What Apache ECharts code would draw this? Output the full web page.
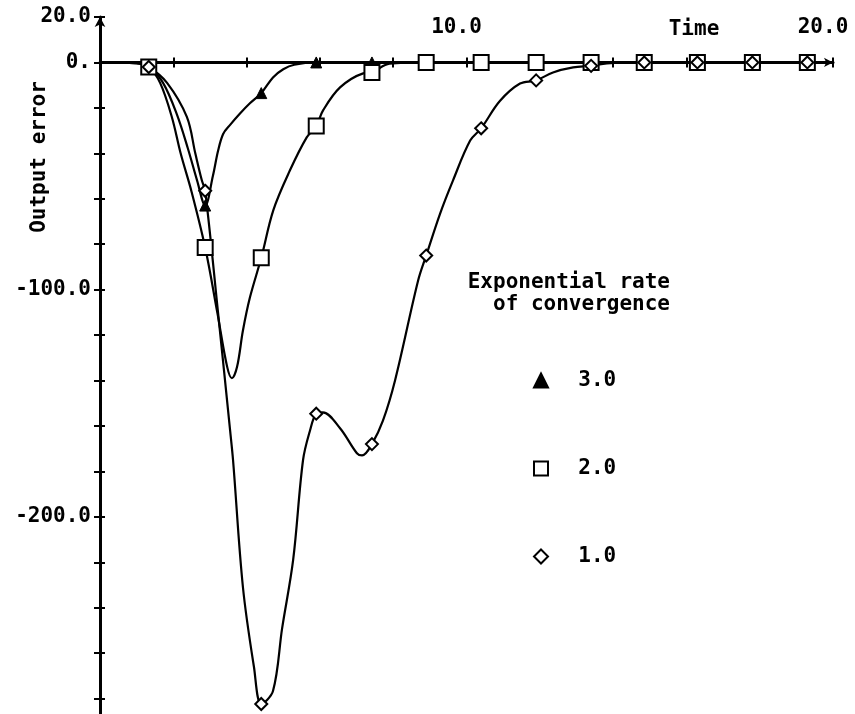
<!DOCTYPE html>
<html>
<head>
<meta charset="utf-8">
<script src="https://cdn.jsdelivr.net/npm/echarts@6/dist/echarts.min.js"></script>
<style>
html,body{margin:0;padding:0;background:#fff;}
#chart{width:855px;height:714px;}
</style>
</head>
<body>
<div id="chart"></div>
<script>
// ---- data ----
const seriesNames = ['3.0', '2.0', '1.0'];
const markerTimes = [1.33, 2.87, 4.4, 5.9, 7.42, 8.9, 10.4, 11.9, 13.4, 14.85, 16.3, 17.8, 19.3];

const rate3 = [[0,0],[1.0,-0.3],[1.33,-2],[1.72,-9],[2.1,-23],[2.4,-38],[2.65,-52],[2.87,-63],
  [3.08,-50],[3.22,-39],[3.36,-31.5],[3.55,-27.5],[3.82,-22.5],[4.09,-18],[4.4,-13.5],
  [4.72,-6.6],[5.0,-3],[5.3,-1],[5.9,0],[7.42,0],[8.9,0],[10.4,0],[11.9,0],[13.4,0],
  [14.85,0],[16.3,0],[17.8,0],[19.3,0]];

const rate2 = [[0,0],[1.0,-0.3],[1.33,-2],[1.64,-9],[1.96,-24],[2.2,-40],[2.5,-57],[2.87,-81.5],
  [3.2,-110],[3.47,-134],[3.6,-139],[3.74,-134],[3.9,-118],[4.09,-103.5],[4.4,-86],
  [4.73,-65],[5.18,-47.6],[5.64,-33],[5.9,-28],[6.09,-21],[6.55,-11],[7.18,-4.8],[7.42,-4.4],
  [7.9,-0.5],[8.9,0],[10.4,0],[11.9,0],[13.4,0],[14.85,0],[16.3,0],[17.8,0],[19.3,0]];

const rate1 = [[0,0],[1.0,-0.3],[1.33,-2],[1.83,-9],[2.37,-24],[2.6,-40],[2.78,-52],[2.87,-56.5],
  [3.22,-110],[3.55,-162],[3.63,-175],[3.9,-231],[4.2,-266],[4.4,-282.4],[4.72,-276.7],
  [4.97,-249],[5.27,-219],[5.54,-175],[5.73,-162],[5.9,-154.6],[6.08,-154],[6.55,-161],
  [7.01,-172],[7.15,-173],[7.42,-168],[7.72,-157.7],[8.05,-140],[8.68,-96],[8.9,-85],
  [9.28,-66.5],[9.63,-52],[10.1,-34.4],[10.4,-29],[10.91,-17],[11.46,-9.3],[11.9,-7.9],
  [12.36,-4.4],[12.91,-2.2],[13.4,-1.5],[13.83,-0.4],[14.85,0],[16.3,0],[17.8,0],[19.3,0]];

const xLabelValues = [10, 20];
const xLabelTexts = ['10.0', '20.0'];
const yLabelValues = [20, 0, -100, -200];
const yLabelTexts = ['20.0', '0.', '-100.0', '-200.0'];

const xTitle = 'Time';
const yTitle = 'Output error';
const legendTitle = 'Exponential rate\n of convergence';

// ---- chart ----
const FONT = '"DejaVu Sans Mono", monospace';
const chart = echarts.init(document.getElementById('chart'), null, {renderer: 'canvas'});

function withMarkers(arr) {
  return arr.map(p => {
    const isMarker = markerTimes.some(t => Math.abs(t - p[0]) < 1e-9);
    return isMarker ? {value: p} : {value: p, symbol: 'none'};
  });
}
function xFmt(v) {
  const i = xLabelValues.indexOf(v);
  return i >= 0 ? xLabelTexts[i] : '';
}
function yFmt(v) {
  const i = yLabelValues.indexOf(v);
  return i >= 0 ? yLabelTexts[i] : '';
}

const Y_MIN = -300, Y_MAX = 20;
const GRID_TOP = 17, GRID_BOTTOM = -30, H = 714;
// offset that brings a 'top' axis down to the zero line
const zeroOffset = -((H - GRID_TOP - GRID_BOTTOM) * (Y_MAX - 0) / (Y_MAX - Y_MIN));

const axisLineStyle = {color: '#000', width: 3};
const baseX = {type: 'value', min: 0, max: 20, interval: 2, splitLine: {show: false}};
const baseY = {type: 'value', min: Y_MIN, max: Y_MAX, interval: 20, position: 'left', splitLine: {show: false}};
const labelFont = {color: '#000', fontFamily: FONT, fontWeight: 'bold', fontSize: 21};

const option = {
  backgroundColor: '#fff',
  animation: false,
  grid: {left: 100, right: 22, top: GRID_TOP, bottom: GRID_BOTTOM, containLabel: false, outerBoundsMode: 'none'},
  xAxis: [
    Object.assign({}, baseX, {
      position: 'bottom',
      axisLine: {show: true, onZero: true, lineStyle: axisLineStyle, symbol: ['none', 'arrow'], symbolSize: [7, 9]},
      axisTick: {show: true, inside: true, length: 5, lineStyle: {color: '#000', width: 2}},
      axisLabel: {show: false}
    }),
    Object.assign({}, baseX, {
      position: 'bottom',
      axisLine: {show: false, onZero: true},
      axisTick: {show: true, inside: false, length: 5, lineStyle: {color: '#000', width: 2}},
      axisLabel: {show: false}
    }),
    Object.assign({}, baseX, {
      position: 'top', offset: zeroOffset,
      axisLine: {show: false, onZero: false},
      axisTick: {show: false},
      axisLabel: Object.assign({show: true, margin: 24, formatter: xFmt, padding: [0, 20, 0, 0]}, labelFont)
    })
  ],
  yAxis: [
    Object.assign({}, baseY, {
      axisLine: {show: true, onZero: true, lineStyle: axisLineStyle, symbol: ['none', 'arrow'], symbolSize: [8, 10]},
      axisTick: {show: true, inside: false, length: 6, lineStyle: {color: '#000', width: 2}},
      axisLabel: Object.assign({show: true, margin: 9, formatter: yFmt}, labelFont)
    }),
    Object.assign({}, baseY, {
      axisLine: {show: false, onZero: true},
      axisTick: {show: true, inside: true, length: 5, lineStyle: {color: '#000', width: 2}},
      axisLabel: {show: false}
    })
  ],
  legend: {
    orient: 'vertical', left: 528, top: 365, itemGap: 67, itemWidth: 14, itemHeight: 14,
    data: [
      {name: seriesNames[0], icon: 'triangle'},
      {name: seriesNames[1], icon: 'rect'},
      {name: seriesNames[2], icon: 'diamond'}
    ],
    formatter: n => '  ' + n,
    textStyle: labelFont
  },
  graphic: [
    {type: 'text', x: 694, y: 30, style: {text: xTitle, align: 'center', verticalAlign: 'middle',
      font: 'bold 21px ' + FONT, fill: '#000'}},
    {type: 'text', x: 40, y: 157, rotation: Math.PI / 2, style: {text: yTitle, align: 'center', verticalAlign: 'middle',
      font: 'bold 21px ' + FONT, fill: '#000'}},
    {type: 'text', x: 670, y: 294, style: {text: legendTitle, align: 'right', verticalAlign: 'middle',
      font: 'bold 21px ' + FONT, lineHeight: 22, fill: '#000'}}
  ],
  series: [
    {name: seriesNames[0], type: 'line', data: withMarkers(rate3), smooth: 0.35,
      symbol: 'triangle', symbolSize: 11, showSymbol: true,
      lineStyle: {color: '#000', width: 2.2}, itemStyle: {color: '#000', borderColor: '#000', borderWidth: 1}, z: 3},
    {name: seriesNames[1], type: 'line', data: withMarkers(rate2), smooth: 0.35,
      symbol: 'rect', symbolSize: 15, showSymbol: true,
      lineStyle: {color: '#000', width: 2.2}, itemStyle: {color: '#fff', borderColor: '#000', borderWidth: 2}, z: 3},
    {name: seriesNames[2], type: 'line', data: withMarkers(rate1), smooth: 0.35,
      symbol: 'diamond', symbolSize: 12, showSymbol: true,
      lineStyle: {color: '#000', width: 2.2}, itemStyle: {color: '#fff', borderColor: '#000', borderWidth: 2}, z: 3}
  ]
};
chart.setOption(option);
</script>
</body>
</html>
